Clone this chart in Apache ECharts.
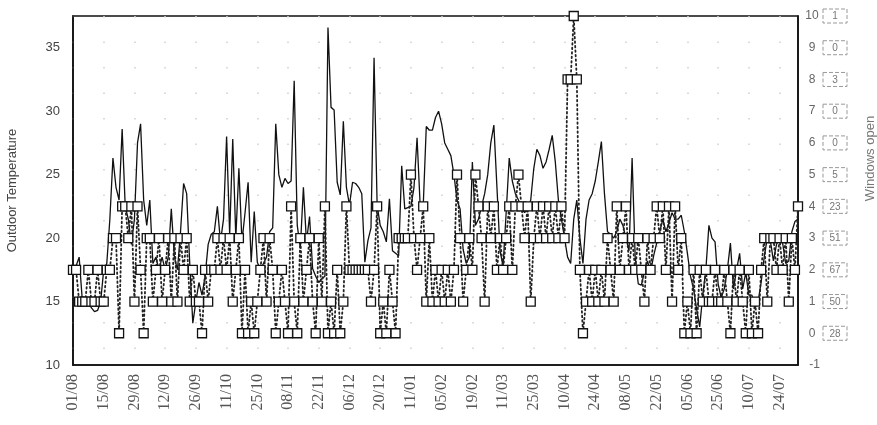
<!DOCTYPE html>
<html>
<head>
<meta charset="utf-8">
<script src="https://cdn.jsdelivr.net/npm/echarts@6/dist/echarts.min.js"></script>
<style>
  html, body { margin: 0; padding: 0; background: #fff; }
  #chart { width: 877px; height: 425px; }
</style>
</head>
<body>
<div id="chart"></div>
<script>
// x-axis tick labels (one every 10 days of data)
const tickLabels = ['01/08','15/08','29/08','12/09','26/09','11/10','25/10','08/11','22/11','06/12','20/12','11/01','05/02','19/02','11/03','25/03','10/04','24/04','08/05','22/05','05/06','25/06','10/07','24/07'];

// Outdoor temperature (left axis)
const temperature = [
17.7,17.8,18.5,15.2,15.0,15.0,14.5,14.2,14.3,15.0,
17.5,18.0,21.5,26.3,24.0,23.0,28.6,22.5,21.5,19.5,
21.5,27.5,29.0,23.0,21.0,23.0,18.0,18.5,17.5,18.5,
17.5,18.5,22.3,18.5,17.5,20.5,24.3,23.5,18.0,13.3,
15.0,16.5,15.5,17.0,19.5,20.3,20.5,22.5,19.7,21.5,
28.0,20.3,27.8,20.0,25.5,19.7,22.0,24.4,18.1,22.1,
18.1,17.5,18.0,18.5,20.5,20.8,29.0,25.0,24.0,24.7,
24.3,24.5,32.4,21.0,19.2,24.0,19.7,21.7,17.6,17.0,
16.5,16.8,17.0,36.6,30.3,30.1,24.4,23.4,29.2,24.0,
22.6,24.4,24.3,24.0,23.5,18.1,19.8,20.8,34.2,22.6,
21.0,20.5,19.7,23.1,19.0,18.8,18.6,25.7,22.3,22.4,
22.5,24.0,27.9,22.6,22.5,28.8,28.5,28.5,29.5,30.0,
29.0,27.5,27.0,26.5,25.0,23.0,22.3,19.1,18.0,18.5,
26.0,21.0,21.5,22.5,23.5,25.0,27.5,28.9,24.0,19.0,
17.8,22.0,26.3,24.5,23.5,23.0,22.3,22.0,22.3,23.0,
25.5,27.0,26.5,25.5,26.0,27.0,28.1,26.0,23.0,21.5,
20.0,18.5,18.0,21.5,23.0,20.0,18.0,21.5,23.0,23.5,
24.5,26.0,27.6,23.5,20.5,20.3,20.0,20.5,21.5,21.0,
20.0,19.0,26.3,18.5,16.4,16.3,17.3,18.2,17.3,18.6,
19.6,20.5,21.5,20.5,21.2,22.0,21.5,21.5,21.8,20.5,
18.8,17.0,16.0,14.4,13.0,15.5,17.5,21.0,20.0,19.7,
16.4,15.3,16.0,17.5,19.6,16.0,17.5,18.8,16.0,17.3,
15.5,15.5,14.5,15.0,16.5,18.5,20.0,19.8,18.2,19.5,
20.0,19.6,18.0,18.2,20.5,21.3,21.5
];

// Number of windows open (right axis)
const windowsOpen = [
2,2,1,1,1,2,1,1,2,1,
1,2,2,3,3,0,4,4,3,4,
1,4,2,0,3,3,1,2,3,1,
2,3,1,3,1,3,2,3,1,2,
1,1,0,2,1,2,2,3,2,3,
2,3,1,2,3,0,2,0,1,0,
1,2,3,1,3,2,0,1,2,1,
0,4,1,0,3,1,2,3,1,0,
3,1,4,0,1,0,2,0,1,4,
2,2,2,2,2,2,2,1,2,4,
0,1,0,2,1,0,3,3,3,3,
5,3,2,3,4,1,3,1,2,1,
2,1,2,1,2,5,3,1,2,3,
2,5,4,3,1,4,3,4,2,3,
2,3,4,2,4,5,4,3,4,1,
3,4,3,4,3,4,3,4,3,4,
3,8,8,10,8,2,0,1,2,1,
2,1,2,1,3,2,1,4,2,3,
4,2,3,2,3,2,1,3,2,3,
4,3,4,2,4,1,4,2,3,0,
1,0,2,0,2,1,2,1,1,2,
1,1,2,1,0,2,1,2,1,0,
2,0,1,0,2,3,1,3,3,2,
3,2,3,1,3,2,4
];

// Right-axis frequency boxes: days observed at each windows-open level 0..10
const levelCounts = [28, 50, 67, 51, 23, 5, 0, 0, 3, 0, 1];

const categories = temperature.map((_, i) => (i % 10 === 0 ? tickLabels[i / 10] : ''));

const chart = echarts.init(document.getElementById('chart'), null, { renderer: 'canvas' });

chart.setOption({
  animation: false,
  backgroundColor: '#ffffff',
  grid: {
    left: 73, right: 79, top: 16, bottom: 60,
    outerBoundsMode: 'none',
    containLabel: false,
    show: true, borderColor: '#111', borderWidth: 1.6, backgroundColor: 'transparent'
  },
  xAxis: {
    type: 'category',
    data: categories,
    boundaryGap: false,
    axisLine: { show: true, onZero: false, lineStyle: { color: '#111', width: 1.6 } },
    axisTick: { show: false },
    axisLabel: {
      interval: 9,
      rotate: 90,
      margin: 9,
      fontFamily: 'Liberation Serif',
      fontSize: 16,
      color: '#555'
    },
    splitLine: {
      show: true,
      interval: 9,
      lineStyle: { color: '#cfcfcf', width: 1.5, type: [1.5, 24] }
    }
  },
  yAxis: [
    {
      type: 'value',
      min: 10, max: 37.5, interval: 5,
      name: 'Outdoor Temperature',
      nameLocation: 'middle',
      nameRotate: 90,
      nameGap: 54,
      nameTextStyle: { fontFamily: 'Liberation Sans', fontSize: 13, color: '#444' },
      axisLine: { show: true, lineStyle: { color: '#111', width: 1.6 } },
      axisTick: { show: false },
      splitLine: { show: false },
      axisLabel: {
        margin: 13,
        fontFamily: 'Liberation Sans',
        fontSize: 13,
        color: '#444',
        formatter: v => (v === 37.5 ? '' : String(v))
      }
    },
    {
      type: 'value',
      min: -1, max: 10, interval: 1,
      position: 'right',
      name: 'Windows open',
      nameLocation: 'middle',
      nameRotate: 90,
      nameGap: 66,
      nameTextStyle: { fontFamily: 'Liberation Sans', fontSize: 13, color: '#777', padding: [0, 0, 0, 64] },
      axisLine: { show: true, lineStyle: { color: '#111', width: 1.6 } },
      axisTick: { show: false },
      splitLine: { show: false },
      axisLabel: {
        margin: 6,
        formatter: v => {
          if (v < 0) return '{n|' + v + '}';
          return '{n|' + v + '}{b|' + levelCounts[v] + '}';
        },
        rich: {
          n: { width: 16, align: 'right', padding: [0, 3, 0, 0], fontFamily: 'Liberation Sans', fontSize: 12, color: '#666' },
          b: {
            width: 18, height: 11, align: 'center', padding: [2, 3, 1, 3],
            borderColor: '#999', borderWidth: 1, borderType: 'dashed',
            fontFamily: 'Liberation Sans', fontSize: 10, color: '#777'
          }
        }
      }
    }
  ],
  series: [
    {
      name: 'Outdoor Temperature',
      type: 'line',
      yAxisIndex: 0,
      data: temperature,
      showSymbol: false,
      lineStyle: { color: '#111', width: 1.3 },
      z: 2
    },
    {
      name: 'Windows open',
      type: 'line',
      yAxisIndex: 1,
      data: windowsOpen,
      showSymbol: true,
      showAllSymbol: true,
      symbol: 'rect',
      symbolSize: [9, 9],
      itemStyle: { color: '#ffffff', borderColor: '#111', borderWidth: 1.3 },
      lineStyle: { color: '#222', width: 1.8, type: [1.5, 3], cap: 'round' },
      z: 3
    }
  ]
});
</script>
</body>
</html>
